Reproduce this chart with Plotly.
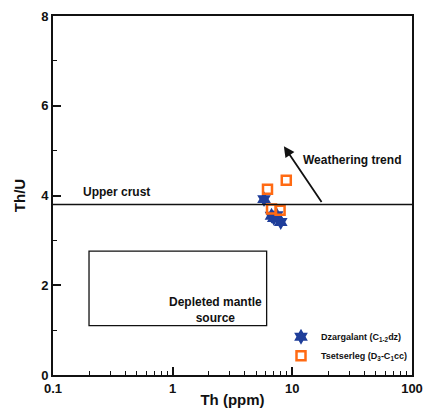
import math
import plotly.graph_objects as go

# Data
dz_th = [5.8, 6.7, 7.4, 8.0, 7.0]
dz_thu = [3.92, 3.55, 3.56, 3.41, 3.50]
ts_th = [6.2, 8.9, 6.7, 7.9]
ts_thu = [4.14, 4.34, 3.70, 3.67]
upper_crust = 3.8
dm_box_th = [0.2, 6.1]
dm_box_thu = [1.1, 2.76]
arrow_start = (17.9, 3.82)
arrow_end = (8.5, 5.1)

FONT = "Liberation Sans, Arial, sans-serif"

fig = go.Figure()

fig.add_trace(go.Scatter(
    x=dz_th, y=dz_thu, mode="markers",
    name="Dzargalant (C<sub>1-2</sub>dz)",
    marker=dict(symbol="hexagram", size=12, color="#1f3e9a", line=dict(width=0)),
))
fig.add_trace(go.Scatter(
    x=ts_th, y=ts_thu, mode="markers",
    name="Tsetserleg (D<sub>3</sub>-C<sub>1</sub>cc)",
    marker=dict(symbol="square-open", size=9, color="#ff6a13", line=dict(width=2.5)),
))

# upper crust line
fig.add_shape(type="line", xref="paper", yref="y", x0=0, x1=1, y0=upper_crust, y1=upper_crust,
              line=dict(color="#111", width=1.6))
# depleted mantle box
fig.add_shape(type="rect", xref="x", yref="y",
              x0=dm_box_th[0], x1=dm_box_th[1],
              y0=dm_box_thu[0], y1=dm_box_thu[1],
              line=dict(color="#111", width=1.3))

# weathering arrow
fig.add_annotation(x=math.log10(arrow_end[0]), y=arrow_end[1],
                   ax=math.log10(arrow_start[0]), ay=arrow_start[1],
                   xref="x", yref="y", axref="x", ayref="y",
                   showarrow=True, arrowhead=2, arrowsize=1.2, arrowwidth=1.8,
                   arrowcolor="#111", text="")

fig.add_annotation(x=math.log10(31.5), y=4.79, text="Weathering trend", showarrow=False,
                   font=dict(family=FONT, size=12, color="#111", weight="bold"))
fig.add_annotation(x=math.log10(0.17), y=4.07, text="Upper crust", showarrow=False, xanchor="left",
                   font=dict(family=FONT, size=12, color="#111", weight="bold"))
fig.add_annotation(x=math.log10(2.26), y=1.44, text="Depleted mantle<br>source", showarrow=False,
                   align="center",
                   font=dict(family=FONT, size=12, color="#111", weight="bold"))

minor_x = [m * 10 ** e for e in range(-1, 2) for m in range(2, 10)]

fig.update_xaxes(
    type="log", range=[-1, 2], tickvals=[0.1, 1, 10, 100], ticktext=["0.1", "1", "10", "100"],
    ticks="inside", ticklen=8, tickwidth=1.5, tickcolor="#111",
    minor=dict(tickvals=minor_x, ticks="inside", ticklen=4, tickwidth=1.2, tickcolor="#111", showgrid=False),
    showline=True, linecolor="#111", linewidth=2, mirror=True, showgrid=False, zeroline=False,
    tickfont=dict(family=FONT, size=13, color="#111", weight="bold"),
    title=dict(text="Th (ppm)", font=dict(family=FONT, size=15, color="#111", weight="bold"), standoff=0),
    automargin=False,
)
fig.update_yaxes(
    range=[0, 8], tickvals=[0, 2, 4, 6, 8],
    ticks="inside", ticklen=8, tickwidth=1.5, tickcolor="#111",
    minor=dict(tickvals=[1, 3, 5, 7], ticks="inside", ticklen=4, tickwidth=1.2, tickcolor="#111", showgrid=False),
    showline=True, linecolor="#111", linewidth=2, mirror=True, showgrid=False, zeroline=False,
    tickfont=dict(family=FONT, size=13, color="#111", weight="bold"),
    title=dict(text="Th/U", font=dict(family=FONT, size=15, color="#111", weight="bold"), standoff=12),
    automargin=False,
)

fig.update_layout(
    width=423, height=413,
    margin=dict(l=53, r=11, t=16, b=38),
    paper_bgcolor="white", plot_bgcolor="white",
    showlegend=True,
    legend=dict(x=1.0, y=0.147, xanchor="right", yanchor="top", bgcolor="rgba(0,0,0,0)",
                font=dict(family=FONT, size=9, color="#111", weight="bold"),
                itemwidth=30, tracegroupgap=0),
)

fig.write_html("out.html")
